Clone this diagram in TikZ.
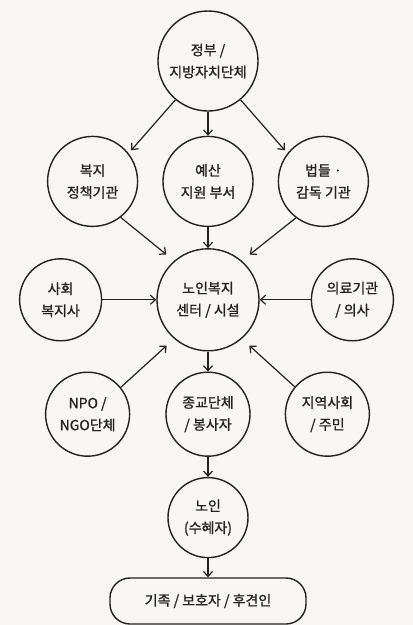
\documentclass[tikz,border=0pt]{standalone}
\usepackage{fontspec}
\newfontfamily\krfont{Noto Sans CJK KR}[AutoFakeBold=1.0]
\usetikzlibrary{positioning, arrows.meta}
\definecolor{paper}{RGB}{249,247,243}
\definecolor{ink}{RGB}{34,34,34}

\begin{document}
\begin{tikzpicture}[
		font=\krfont\bfseries\fontsize{14}{22}\selectfont,
		node distance=24pt,
		actor/.style={draw=ink, text=ink, circle, line width=1.4pt, align=center, inner sep=0pt},
		pill/.style={draw=ink, text=ink, rounded corners=20pt, line width=1.4pt, minimum width=196pt, minimum height=46pt, align=center},
		link/.style={draw=ink, line width=1.2pt, -{Straight Barb[length=5pt,width=9pt]}}
		]
		
		% Paper and margins
		\fill[paper] (0,0) rectangle (413pt,-625pt);
		\useasboundingbox (0,0) rectangle (413pt,-625pt);
		
		% Top level
		\node[actor, minimum size=100pt] (gov) at (208pt,-61pt) {정부 /\\지방자치단체};
		
		% Agencies under the government
		\node[actor, minimum size=90pt, below=24pt of gov] (budget) {예산\\지원 부서};
		\node[actor, minimum size=90pt, left=24pt of budget] (policy) {복지\\정책기관};
		\node[actor, minimum size=90pt, right=24pt of budget] (law) {법들 ·\\감독 기관};
		
		\draw[link, shorten >=4pt] (gov.230) -- (policy.38);
		\draw[link] (gov) -- (budget);
		\draw[link, shorten >=4pt] (gov.310) -- (law.142);
		
		% Centre and its side partners
		\node[actor, minimum size=102pt, below=21pt of budget] (centre) {노인복지\\센터 / 시설};
		\node[actor, minimum size=82pt, left=54pt of centre] (worker) {사회\\복지사};
		\node[actor, minimum size=82pt, right=51pt of centre] (medic) {의료기관\\/ 의사};
		
		\draw[link, shorten >=10pt] (policy.-52) -- (centre.131);
		\draw[link] (budget) -- (centre);
		\draw[link, shorten >=10pt] (law.233) -- (centre.49);
		\draw[link] (worker) -- (centre);
		\draw[link] (medic) -- (centre);
		
		% Community row
		\node[actor, minimum size=84pt, below=20pt of centre] (church) {종교단체\\/ 봉사자};
		\node[actor, minimum size=84pt, left=35pt of church] (npo) {NPO /\\NGO단체};
		\node[actor, minimum size=84pt, right=34pt of church] (local) {지역사회\\/ 주민};
		
		\draw[link, shorten >=10pt] (npo.39) -- (centre.229);
		\draw[link] (centre) -- (church);
		\draw[link, shorten >=10pt] (local.140) -- (centre.311);
		
		% Recipients
		\node[actor, minimum size=80pt, below=20pt of church] (elder) {노인\\(수혜자)};
		\node[pill, below=19pt of elder] (family) {기족 / 보호자 / 후견인};
		
		\draw[link] (church) -- (elder);
		\draw[link] (elder) -- (family);
		
	\end{tikzpicture}
\end{document}
